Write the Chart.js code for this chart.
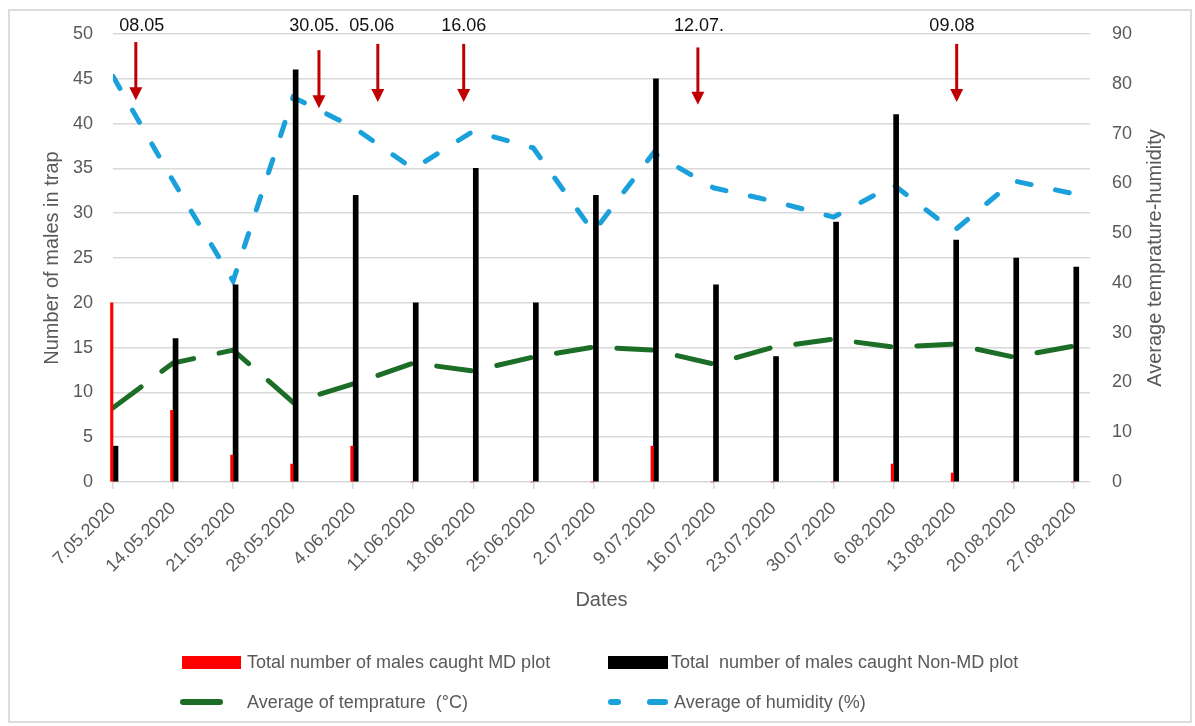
<!DOCTYPE html>
<html>
<head>
<meta charset="utf-8">
<script src="https://cdn.jsdelivr.net/npm/chart.js@4"></script>
<style>
  html, body { margin: 0; padding: 0; background: #fff; }
  #wrap { position: relative; width: 1195px; height: 726px; }
  #frame { position: absolute; left: 8px; top: 9px; width: 1180px; height: 710px; border: 2px solid #dcdcdc; }
  canvas { position: absolute; left: 0; top: 0; }
  .lg { position: absolute; font-family: "Liberation Sans", Arial, sans-serif; font-size: 18px;
        color: #595959; line-height: 24px; white-space: pre; }
  .sw { position: absolute; }
</style>
</head>
<body>
<div id="wrap">
  <div id="frame"></div>
  <canvas id="grafico" width="1195" height="726"></canvas>

  <div class="sw" style="left:182px;top:656px;width:59px;height:13px;background:#ff0000"></div>
  <div class="lg" style="left:247px;top:650px">Total number of males caught MD plot</div>
  <div class="sw" style="left:608px;top:656px;width:60px;height:13px;background:#000"></div>
  <div class="lg" style="left:671px;top:650px">Total  number of males caught Non-MD plot</div>

  <div class="sw" style="left:180px;top:699px;width:43px;height:6px;border-radius:3px;background:#1c6e26"></div>
  <div class="lg" style="left:247px;top:690px">Average of temprature  (°C)</div>
  <div class="sw" style="left:608px;top:699px;width:13px;height:6px;border-radius:3px;background:#1aa0da"></div>
  <div class="sw" style="left:647px;top:699px;width:21px;height:6px;border-radius:3px;background:#1aa0da"></div>
  <div class="lg" style="left:674px;top:690px">Average of humidity (%)</div>
</div>

<script>
const dates = ["7.05.2020", "14.05.2020", "21.05.2020", "28.05.2020", "4.06.2020", "11.06.2020",
  "18.06.2020", "25.06.2020", "2.07.2020", "9.07.2020", "16.07.2020", "23.07.2020",
  "30.07.2020", "6.08.2020", "13.08.2020", "20.08.2020", "27.08.2020"];

const mdPlot = [20, 8, 3, 2, 4, 0, 0, 0, 0, 4, 0, 0, 0, 2, 1, 0, 0];
const nonMdPlot = [4, 16, 22, 46, 32, 20, 35, 20, 32, 45, 22, 14, 29, 41, 27, 25, 24];
const temperatura = [14.9, 23.9, 26.5, 16.0, 19.7, 23.9, 22.3, 25.1, 27.1, 26.5, 23.7, 27.1, 28.7, 27.1, 27.7, 25.1, 27.3];
const humedad = [81.5, 60.5, 40.4, 77.3, 71.3, 62.9, 70.5, 67.1, 50.2, 66.1, 59.1, 56.4, 53.2, 59.7, 50.4, 60.5, 57.9];

const leftTicks = [0, 50, 5];
const rightTicks = [0, 90, 10];

// treatment dates marked with red arrows (x in week index, y in left-axis units)
const flechas = [
  { text: "08.05", x: 0.38, labelX: 0.48, top: 49.1, tip: 42.6 },
  { text: "30.05.", x: 3.43, labelX: 3.35, top: 48.2, tip: 41.7 },
  { text: "05.06", x: 4.41, labelX: 4.31, top: 48.9, tip: 42.4 },
  { text: "16.06", x: 5.84, labelX: 5.84, top: 48.9, tip: 42.4 },
  { text: "12.07.", x: 9.74, labelX: 9.76, top: 48.5, tip: 42.1 },
  { text: "09.08", x: 14.05, labelX: 13.97, top: 48.9, tip: 42.4 }
];

const puntos = arr => arr.map((v, i) => ({ x: i, y: v }));

const gris = "#595959";
const fuente = "'Liberation Sans', Arial, sans-serif";

const flechasPlugin = {
  id: "flechas",
  afterDatasetsDraw(chart) {
    const { ctx, scales } = chart;
    ctx.save();
    flechas.forEach(f => {
      const x = scales.x.getPixelForValue(f.x);
      const y0 = scales.y.getPixelForValue(f.top);
      const y1 = scales.y.getPixelForValue(f.tip);
      ctx.strokeStyle = "#c00000";
      ctx.fillStyle = "#c00000";
      ctx.lineWidth = 3;
      ctx.beginPath();
      ctx.moveTo(x, y0);
      ctx.lineTo(x, y1 - 10);
      ctx.stroke();
      ctx.beginPath();
      ctx.moveTo(x - 6.5, y1 - 13);
      ctx.lineTo(x + 6.5, y1 - 13);
      ctx.lineTo(x, y1);
      ctx.closePath();
      ctx.fill();

      ctx.fillStyle = "#111";
      ctx.font = "18px " + fuente;
      ctx.textAlign = "center";
      ctx.textBaseline = "middle";
      ctx.fillText(f.text, scales.x.getPixelForValue(f.labelX), scales.y.getPixelForValue(50.85));
    });

    // right axis title, reading bottom to top
    const a = chart.chartArea;
    ctx.translate(1155, (a.top + a.bottom) / 2);
    ctx.rotate(-Math.PI / 2);
    ctx.fillStyle = gris;
    ctx.font = "20px " + fuente;
    ctx.textAlign = "center";
    ctx.textBaseline = "middle";
    ctx.fillText("Average temprature-humidity", 0, 0);
    ctx.restore();
  }
};

new Chart(document.getElementById("grafico"), {
  type: "bar",
  data: {
    datasets: [
      {
        label: "Total number of males caught MD plot",
        data: puntos(mdPlot),
        backgroundColor: "#ff0000",
        barThickness: 2.5,
        clip: false,
        yAxisID: "y",
        order: 0
      },
      {
        label: "Total  number of males caught Non-MD plot",
        data: puntos(nonMdPlot),
        backgroundColor: "#000000",
        barThickness: 5,
        clip: false,
        yAxisID: "y",
        order: 0
      },
      {
        type: "line",
        label: "Average of temprature  (°C)",
        data: puntos(temperatura),
        borderColor: "#1c6e26",
        borderWidth: 5,
        borderDash: [35, 26],
        borderCapStyle: "round",
        pointRadius: 0,
        tension: 0,
        yAxisID: "y1",
        order: 1
      },
      {
        type: "line",
        label: "Average of humidity (%)",
        data: puntos(humedad),
        borderColor: "#1aa0da",
        borderWidth: 5,
        borderDash: [14, 25],
        borderCapStyle: "round",
        pointRadius: 0,
        tension: 0,
        yAxisID: "y1",
        order: 1
      }
    ]
  },
  options: {
    responsive: false,
    animation: false,
    layout: { padding: { top: 34, bottom: 114, left: 0, right: 0 } },
    plugins: { legend: { display: false }, tooltip: { enabled: false } },
    scales: {
      x: {
        type: "linear",
        offset: false,
        min: 0,
        max: 16.27,
        afterFit: s => { s.height = 130; },
        grid: { offset: false, drawOnChartArea: false, drawTicks: true, tickLength: 7, color: "#d9d9d9", lineWidth: 1.5 },
        border: { display: false },
        ticks: {
          stepSize: 1,
          includeBounds: false,
          autoSkip: false,
          minRotation: 45,
          maxRotation: 45,
          padding: 9,
          color: gris,
          font: { family: fuente, size: 18 },
          callback: v => (Number.isInteger(v) ? dates[v] : "")
        },
        title: { display: true, text: "Dates", color: gris, font: { family: fuente, size: 20 }, padding: { top: 0, bottom: 0 } }
      },
      y: {
        position: "left",
        min: leftTicks[0],
        max: leftTicks[1],
        afterFit: s => { s.width = 113; },
        grid: { color: "#d9d9d9", lineWidth: 1.5, drawTicks: false },
        border: { display: false },
        ticks: { stepSize: leftTicks[2], padding: 20, color: gris, font: { family: fuente, size: 18 } },
        title: { display: true, text: "Number of males in trap", color: gris, font: { family: fuente, size: 20 }, padding: { top: 40, bottom: 0 } }
      },
      y1: {
        position: "right",
        min: rightTicks[0],
        max: rightTicks[1],
        afterFit: s => { s.width = 105; },
        grid: { drawOnChartArea: false, drawTicks: false },
        border: { display: false },
        ticks: { stepSize: rightTicks[2], padding: 22, color: gris, font: { family: fuente, size: 18 } }
      }
    }
  },
  plugins: [flechasPlugin]
});
</script>
</body>
</html>
